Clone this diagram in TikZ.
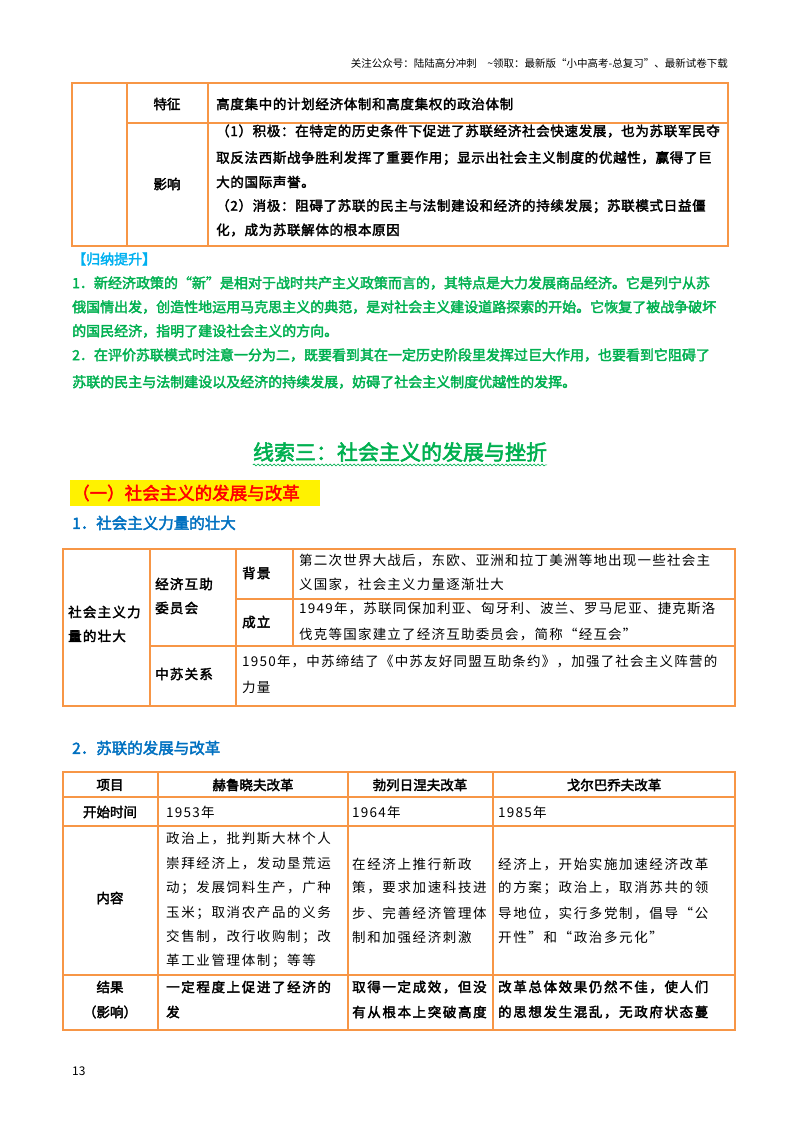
\documentclass[tikz,border=0pt]{standalone}
\usepackage{fontspec}
\setmainfont{Noto Sans CJK SC}[AutoFakeBold=2.5]
\newfontfamily\lsa{Noto Sans CJK SC}[AutoFakeBold=2.5,LetterSpace=5]
\newfontfamily\lsb{Noto Sans CJK SC}[AutoFakeBold=2.5,LetterSpace=9]
\newfontfamily\lsc{Noto Sans CJK SC}[AutoFakeBold=2.5,LetterSpace=12]
\usetikzlibrary{decorations.pathmorphing}
\definecolor{ob}{HTML}{F79646}
\definecolor{gr}{HTML}{00B050}
\definecolor{bl}{HTML}{0070C0}
\definecolor{cy}{HTML}{00B0F0}
\tikzset{
 t/.style={anchor=west,inner sep=0,font=\lsb\fontsize{13.5}{14}\selectfont},
 tb/.style={anchor=west,inner sep=0,font=\lsb\fontsize{13.5}{14}\selectfont\bfseries},
 ta/.style={anchor=west,inner sep=0,font=\lsa\fontsize{13.5}{14}\selectfont\bfseries},
 t3/.style={anchor=west,inner sep=0,font=\lsc\fontsize{13.5}{14}\selectfont},
 t3b/.style={anchor=west,inner sep=0,font=\lsc\fontsize{13.5}{14}\selectfont\bfseries},
 tc/.style={anchor=center,inner sep=0,font=\fontsize{13.5}{14}\selectfont\bfseries},
 g/.style={anchor=west,inner sep=0,text=gr,font=\fontsize{14}{15}\selectfont\bfseries},
 grid/.style={draw=ob,line width=1.1pt}
}
\begin{document}
\begin{tikzpicture}[x=1pt,y=-1pt]
\useasboundingbox (0,0) rectangle (800,1132);
\node[anchor=east,inner sep=0,font=\fontsize{10.5}{11}\selectfont] (hdr) at (728,63) {关注公众号：陆陆高分冲刺\quad \~{}领取：最新版“小中高考-总复习”、最新试卷下载};
% table 1
\draw[grid] (72,83) rectangle (728,246);
\draw[grid] (127,83) -- (127,246) (208,83) -- (208,246) (127,123) -- (728,123);
\node[tc] (a1) at (167,104) {特征};
\node[tc] (a2) at (167,184) {影响};
\node[ta] (a3) at (216,104) {高度集中的计划经济体制和高度集权的政治体制};
\node[ta] (a4) at (216,131) {（1）积极：在特定的历史条件下促进了苏联经济社会快速发展，也为苏联军民夺};
\node[ta] (a5) at (216,158) {取反法西斯战争胜利发挥了重要作用；显示出社会主义制度的优越性，赢得了巨};
\node[ta] (a6) at (216,182) {大的国际声誉。};
\node[ta] (a7) at (216,206) {（2）消极：阻碍了苏联的民主与法制建设和经济的持续发展；苏联模式日益僵};
\node[ta] (a8) at (216,230) {化，成为苏联解体的根本原因};
% summary
\node[g,text=cy] (s0) at (72,259) {【归纳提升】};
\node[g] (s1) at (72,283) {1．新经济政策的“新”是相对于战时共产主义政策而言的，其特点是大力发展商品经济。它是列宁从苏};
\node[g] (s2) at (72,307) {俄国情出发，创造性地运用马克思主义的典范，是对社会主义建设道路探索的开始。它恢复了被战争破坏};
\node[g] (s3) at (72,331) {的国民经济，指明了建设社会主义的方向。};
\node[g] (s4) at (72,355) {2．在评价苏联模式时注意一分为二，既要看到其在一定历史阶段里发挥过巨大作用，也要看到它阻碍了};
\node[g] (s5) at (72,382) {苏联的民主与法制建设以及经济的持续发展，妨碍了社会主义制度优越性的发挥。};
% title
\node[anchor=center,inner sep=0,text=gr,font=\fontsize{21}{22}\selectfont\bfseries] (ti) at (400,452) {线索三：社会主义的发展与挫折};
\draw[gr,line width=0.6pt,decorate,decoration={snake,amplitude=1pt,segment length=4pt}] ([yshift=-3pt]ti.south west) -- ([yshift=-3pt]ti.south east);
\fill[yellow] (70,480) rectangle (320,506);
\node[anchor=west,inner sep=0,text=red,font=\fontsize{17.5}{18}\selectfont\bfseries] (h1) at (72,493) {（一）社会主义的发展与改革};
\node[anchor=west,inner sep=0,text=bl,font=\fontsize{15.5}{16}\selectfont\bfseries] (h2) at (72,523) {1．社会主义力量的壮大};
% table 2
\draw[grid] (63,549) rectangle (735,706);
\draw[grid] (150,549) -- (150,706) (236,549) -- (236,706) (293,549) -- (293,646) (236,599) -- (735,599) (150,646) -- (735,646);
\node[tb] (b1) at (68,612) {社会主义力};
\node[tb] (b2) at (68,636) {量的壮大};
\node[tb] (b3) at (155,584) {经济互助};
\node[tb] (b4) at (155,608) {委员会};
\node[tb] (b5) at (155,674) {中苏关系};
\node[tb] (b6) at (242,573) {背景};
\node[tb] (b7) at (242,622) {成立};
\node[t] (b8) at (299,560) {第二次世界大战后，东欧、亚洲和拉丁美洲等地出现一些社会主};
\node[t] (b9) at (299,584) {义国家，社会主义力量逐渐壮大};
\node[t] (b10) at (299,609) {1949年，苏联同保加利亚、匈牙利、波兰、罗马尼亚、捷克斯洛};
\node[t] (b11) at (299,634) {伐克等国家建立了经济互助委员会，简称“经互会”};
\node[t] (b12) at (242,661) {1950年，中苏缔结了《中苏友好同盟互助条约》，加强了社会主义阵营的};
\node[t] (b13) at (242,687) {力量};
\node[anchor=west,inner sep=0,text=bl,font=\fontsize{15.5}{16}\selectfont\bfseries] (h3) at (72,748) {2．苏联的发展与改革};
% table 3
\draw[grid] (63,772) rectangle (735,1030);
\draw[grid] (158,772) -- (158,1030) (348,772) -- (348,1030) (493,772) -- (493,1030)
 (63,797) -- (735,797) (63,826) -- (735,826) (63,975) -- (735,975);
\node[tc] (c1) at (110,785) {项目};
\node[tc] (c2) at (253,785) {赫鲁晓夫改革};
\node[tc] (c3) at (420,785) {勃列日涅夫改革};
\node[tc] (c4) at (614,785) {戈尔巴乔夫改革};
\node[tc] (c5) at (110,812) {开始时间};
\node[t] (c6) at (166,812) {1953年};
\node[t] (c7) at (352,812) {1964年};
\node[t] (c8) at (498,812) {1985年};
\node[tc] (c9) at (110,898) {内容};
\node[t3] (d1) at (166,839) {政治上，批判斯大林个人};
\node[t3] (d2) at (166,864) {崇拜经济上，发动垦荒运};
\node[t3] (d3) at (166,888) {动；发展饲料生产，广种};
\node[t3] (d4) at (166,913) {玉米；取消农产品的义务};
\node[t3] (d5) at (166,937) {交售制，改行收购制；改};
\node[t3] (d6) at (166,961) {革工业管理体制；等等};
\node[t3] (e1) at (352,864) {在经济上推行新政};
\node[t3] (e2) at (352,888) {策，要求加速科技进};
\node[t3] (e3) at (352,913) {步、完善经济管理体};
\node[t3] (e4) at (352,937) {制和加强经济刺激};
\node[t3] (f1) at (498,864) {经济上，开始实施加速经济改革};
\node[t3] (f2) at (498,888) {的方案；政治上，取消苏共的领};
\node[t3] (f3) at (498,913) {导地位，实行多党制，倡导“公};
\node[t3] (f4) at (498,937) {开性”和“政治多元化”};
\node[tc] (r0) at (110,987) {结果};
\node[tc] (r1) at (110,1012) {（影响）};
\node[t3b] (r2) at (166,987) {一定程度上促进了经济的};
\node[t3b] (r3) at (166,1012) {发};
\node[t3b] (r4) at (352,987) {取得一定成效，但没};
\node[t3b] (r5) at (352,1012) {有从根本上突破高度};
\node[t3b] (r6) at (498,987) {改革总体效果仍然不佳，使人们};
\node[t3b] (r7) at (498,1012) {的思想发生混乱，无政府状态蔓};
\node[anchor=west,inner sep=0,font=\fontsize{12}{13}\selectfont] (pg) at (72,1071) {13};
\end{tikzpicture}
\end{document}
